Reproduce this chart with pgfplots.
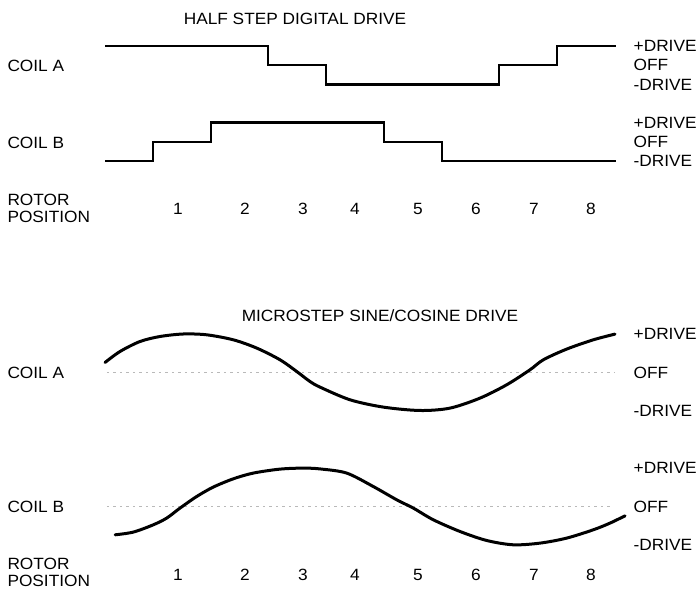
\documentclass[border=0pt]{standalone}
\usepackage{pgfplots}
\pgfplotsset{compat=1.18}
\usepackage{fontspec}
\setmainfont[FakeStretch=1.06]{Liberation Sans}
\newcommand\lbl{\fontsize{16.3}{19}\selectfont}
\pgfplotsset{
  coil/.style={
    scale only axis, clip=false,
    width=533.725pt,
    xmin=-0.5, xmax=8.75, ymin=-1, ymax=1,
    axis line style={draw=none}, tick style={draw=none},
    ytick={-1,0,1}, yticklabels={-DRIVE,OFF,+DRIVE},
    yticklabel pos=right,
    yticklabel style={anchor=west, inner sep=0pt, xshift=4.3pt, font=\lbl},
    xtick=\empty,
    /pgf/number format/assume math mode=true,
  },
  rotor/.style={
    xtick={0.931,2.092,3.097,3.998,5.090,6.095,7.100,8.088},
    xticklabels={1,2,3,4,5,6,7,8},
    xticklabel style={anchor=base, font=\lbl, yshift=#1},
  },
  step/.style={const plot, line width=2.4pt, black},
  wave/.style={smooth, line width=3pt, black, line cap=round},
  offline/.style={gray!55, line width=0.6pt, dash pattern=on 2.5pt off 4pt},
}
\begin{document}
\begin{tikzpicture}
\useasboundingbox (0,0) rectangle (698pt,591pt);

% ---------- Half step digital drive ----------
\node[font=\lbl, inner sep=0pt] at (295pt,572.5pt) {HALF STEP DIGITAL DRIVE};

\begin{axis}[coil, height=38.5pt, at={(95.45pt,506.5pt)}, anchor=south west]
\addplot[step] coordinates {(-0.334,1) (2.49,0) (3.496,-1) (6.494,0) (7.499,1) (8.522,1)};
\end{axis}

\begin{axis}[coil, rotor=-53.7pt, height=38.6pt, at={(95.45pt,429.7pt)}, anchor=south west]
\addplot[step] coordinates {(-0.334,-1) (0.497,0) (1.503,1) (4.501,0) (5.506,-1) (8.522,-1)};
\end{axis}

\node[font=\lbl, inner sep=0pt, anchor=west] at (7.3pt,525pt) {COIL A};
\node[font=\lbl, inner sep=0pt, anchor=west] at (7.3pt,448.5pt) {COIL B};
\node[font=\lbl, inner sep=0pt, anchor=west] at (7.3pt,391pt) {ROTOR};
\node[font=\lbl, inner sep=0pt, anchor=west] at (7.3pt,374.5pt) {POSITION};

% ---------- Microstep sine/cosine drive ----------
\node[font=\lbl, inner sep=0pt] at (380pt,275.2pt) {MICROSTEP SINE/COSINE DRIVE};

\begin{axis}[coil, height=77pt, at={(95.45pt,180pt)}, anchor=south west]
\addplot[offline] coordinates {(-0.3,0) (8.5,0)};
\addplot[wave] coordinates {
(-0.334,0.26) (-0.075,0.545) (0.272,0.805) (0.619,0.935) (1.023,1.0)
(1.428,0.979) (1.889,0.849) (2.295,0.634) (2.699,0.330) (2.988,0.026)
(3.218,-0.234) (3.392,-0.38) (3.912,-0.709) (4.489,-0.899) (5.125,-0.987)
(5.645,-0.925) (6.165,-0.665) (6.627,-0.319) (7.031,0.070) (7.262,0.330)
(7.667,0.608) (8.128,0.849) (8.504,0.997)};
\end{axis}

\begin{axis}[coil, rotor=-35.5pt, height=77pt, at={(95.45pt,46pt)}, anchor=south west]
\addplot[offline] coordinates {(-0.3,0) (8.47,0)};
\addplot[wave] coordinates {
(-0.159,-0.735) (0.156,-0.665) (0.503,-0.475) (0.735,-0.301) (0.965,-0.042)
(1.255,0.260) (1.542,0.504) (1.889,0.719) (2.236,0.868) (2.698,0.971)
(3.102,0.997) (3.4,0.975) (3.854,0.868) (4.315,0.519) (4.721,0.174)
(5.009,-0.042) (5.355,-0.345) (5.818,-0.649) (6.281,-0.883) (6.742,-0.995)
(7.205,-0.951) (7.667,-0.821) (8.128,-0.605) (8.418,-0.431) (8.678,-0.242)};
\end{axis}

\node[font=\lbl, inner sep=0pt, anchor=west] at (7.3pt,218pt) {COIL A};
\node[font=\lbl, inner sep=0pt, anchor=west] at (7.3pt,84.5pt) {COIL B};
\node[font=\lbl, inner sep=0pt, anchor=west] at (7.3pt,27pt) {ROTOR};
\node[font=\lbl, inner sep=0pt, anchor=west] at (7.3pt,10.5pt) {POSITION};
\end{tikzpicture}
\end{document}
